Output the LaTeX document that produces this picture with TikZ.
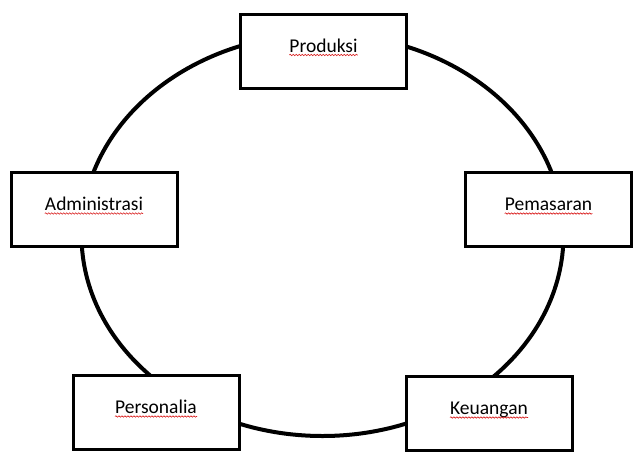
\documentclass[tikz,border=0pt]{standalone}
\usepackage{fontspec}
\setmainfont{Carlito}
\usetikzlibrary{positioning}
\usetikzlibrary{decorations.pathmorphing}
\definecolor{sred}{rgb}{0.85, 0.1, 0.1}
\tikzset{unit/.style = {draw, fill=white, line width=3pt, minimum width=166pt, minimum height=74pt, inner sep=0},
  lbl/.style = {anchor=base, inner sep=0, font=\fontsize{19.5}{23}\selectfont},
  squig/.style = {sred, line width=0.6pt, decorate, decoration={snake, amplitude=0.7pt, segment length=3pt}}}

\begin{document}
\begin{tikzpicture}[x=1pt, y=-1pt]
      \useasboundingbox (0, 0) rectangle (640, 458);
      \coordinate (hub) at (322.5, 235);
      \draw [line width=4pt] (hub) ellipse [x radius=241pt, y radius=201pt];
      \foreach \id/\x/\y/\txt in {prod/323.5/51/Produksi, pem/548.5/209.5/Pemasaran,
        adm/94/209.5/Administrasi, pers/156/412.5/Personalia, keu/489/413.5/Keuangan} {
        \node [unit] (\id) at (\x, \y) {};
        \node [lbl] (\id-t) at ([yshift=-1pt]\id.center) {\txt};
        \draw [squig] ([yshift=-3pt]\id-t.base west) -- ([yshift=-3pt]\id-t.base east);
      }
    \end{tikzpicture}
\end{document}
